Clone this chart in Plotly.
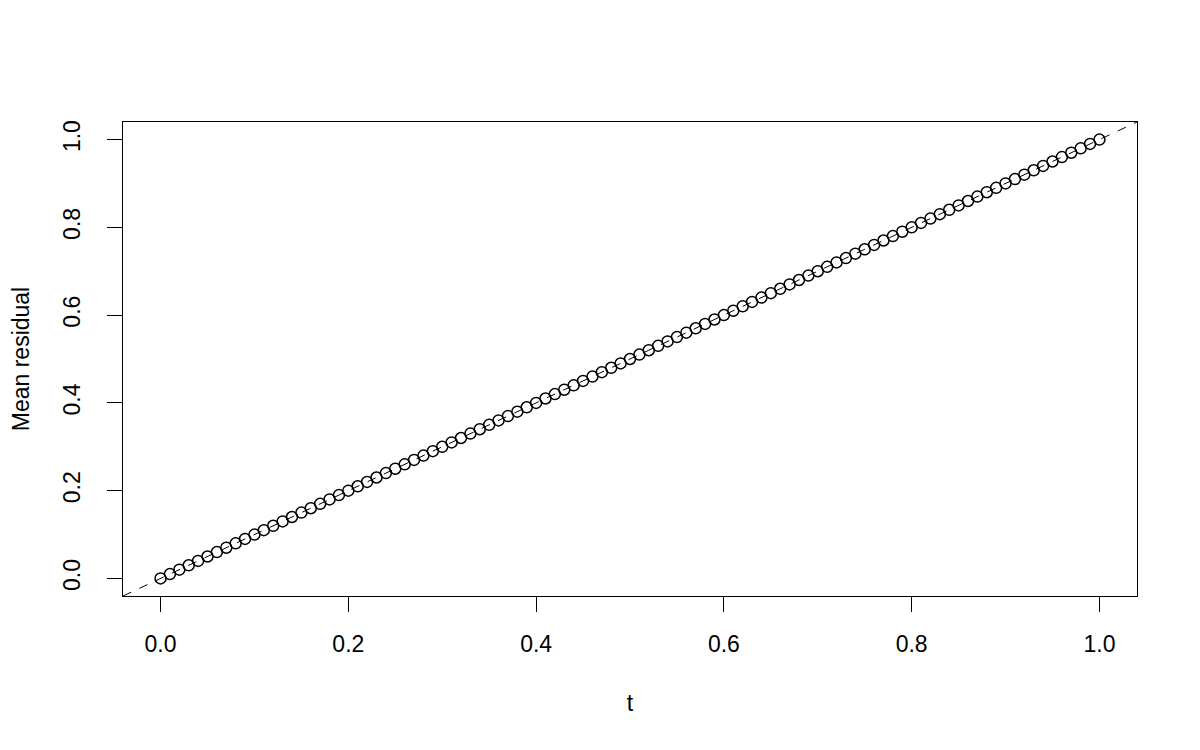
import plotly.graph_objects as go

t_values = [0.00, 0.01, 0.02, 0.03, 0.04, 0.05, 0.06, 0.07, 0.08, 0.09,
            0.10, 0.11, 0.12, 0.13, 0.14, 0.15, 0.16, 0.17, 0.18, 0.19,
            0.20, 0.21, 0.22, 0.23, 0.24, 0.25, 0.26, 0.27, 0.28, 0.29,
            0.30, 0.31, 0.32, 0.33, 0.34, 0.35, 0.36, 0.37, 0.38, 0.39,
            0.40, 0.41, 0.42, 0.43, 0.44, 0.45, 0.46, 0.47, 0.48, 0.49,
            0.50, 0.51, 0.52, 0.53, 0.54, 0.55, 0.56, 0.57, 0.58, 0.59,
            0.60, 0.61, 0.62, 0.63, 0.64, 0.65, 0.66, 0.67, 0.68, 0.69,
            0.70, 0.71, 0.72, 0.73, 0.74, 0.75, 0.76, 0.77, 0.78, 0.79,
            0.80, 0.81, 0.82, 0.83, 0.84, 0.85, 0.86, 0.87, 0.88, 0.89,
            0.90, 0.91, 0.92, 0.93, 0.94, 0.95, 0.96, 0.97, 0.98, 0.99,
            1.00]
mean_residual = [0.000, 0.010, 0.020, 0.030, 0.040, 0.050, 0.060, 0.070, 0.080, 0.090,
                 0.100, 0.110, 0.120, 0.130, 0.140, 0.150, 0.160, 0.170, 0.180, 0.190,
                 0.200, 0.210, 0.220, 0.230, 0.240, 0.250, 0.260, 0.270, 0.280, 0.290,
                 0.300, 0.310, 0.320, 0.330, 0.340, 0.350, 0.360, 0.370, 0.380, 0.390,
                 0.400, 0.410, 0.420, 0.430, 0.440, 0.450, 0.460, 0.470, 0.480, 0.490,
                 0.500, 0.510, 0.520, 0.530, 0.540, 0.550, 0.560, 0.570, 0.580, 0.590,
                 0.600, 0.610, 0.620, 0.630, 0.640, 0.650, 0.660, 0.670, 0.680, 0.690,
                 0.700, 0.710, 0.720, 0.730, 0.740, 0.750, 0.760, 0.770, 0.780, 0.790,
                 0.800, 0.810, 0.820, 0.830, 0.840, 0.850, 0.860, 0.870, 0.880, 0.890,
                 0.900, 0.910, 0.920, 0.930, 0.940, 0.950, 0.960, 0.970, 0.980, 0.990,
                 1.000]
tick_vals = [0.0, 0.2, 0.4, 0.6, 0.8, 1.0]
tick_text = ["0.0", "0.2", "0.4", "0.6", "0.8", "1.0"]
ref_intercept = 0.0
ref_slope = 1.0

FONT = "Liberation Sans, Arial, sans-serif"
FS = 23

xmin, xmax = min(t_values), max(t_values)
ymin, ymax = min(mean_residual), max(mean_residual)
pad_x = 0.04 * (xmax - xmin)
pad_y = 0.04 * (ymax - ymin)
xr = [xmin - pad_x, xmax + pad_x]
yr = [ymin - pad_y, ymax + pad_y]

fig = go.Figure()
fig.add_trace(go.Scatter(
    x=t_values, y=mean_residual, mode="markers",
    marker=dict(symbol="circle-open", size=11, color="black", line=dict(width=1.5, color="black")),
    showlegend=False, hoverinfo="x+y",
))
fig.add_shape(type="line", xref="x", yref="y",
              x0=xr[0], y0=ref_intercept + ref_slope * xr[0],
              x1=xr[1], y1=ref_intercept + ref_slope * xr[1],
              line=dict(color="black", width=1, dash="dash"))

fig.update_layout(
    width=1200, height=750,
    margin=dict(l=115, r=71, t=114, b=162),
    plot_bgcolor="white", paper_bgcolor="white",
    font=dict(family=FONT, size=FS, color="black"),
)
fig.update_xaxes(
    range=xr, tickvals=tick_vals, ticktext=tick_text, automargin=False,
    tickfont=dict(family=FONT, size=FS),
    showgrid=False, zeroline=False, showline=True, linecolor="black", linewidth=1, mirror=True,
    ticks="outside", ticklen=15, tickcolor="black", tickwidth=1,
    ticklabelstandoff=12,
    title=dict(text="t", font=dict(family=FONT, size=FS), standoff=39),
)
fig.update_yaxes(
    range=yr, tickvals=tick_vals, ticktext=tick_text, tickangle=-90, automargin=False,
    tickfont=dict(family=FONT, size=FS),
    showgrid=False, zeroline=False, showline=True, linecolor="black", linewidth=1, mirror=True,
    ticks="outside", ticklen=15, tickcolor="black", tickwidth=1,
    ticklabelstandoff=18,
    title=dict(text="Mean residual", font=dict(family=FONT, size=FS), standoff=27),
)

fig.write_html("out.html")
